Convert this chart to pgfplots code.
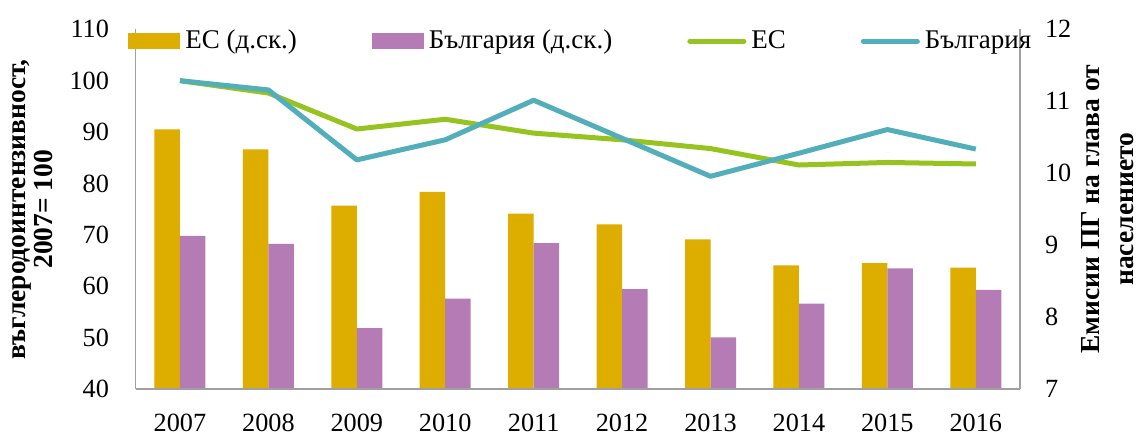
\documentclass[border=0pt]{standalone}
\usepackage{fontspec}
\setmainfont{Liberation Serif}
\usepackage{pgfplots}
\pgfplotsset{compat=1.18}
\definecolor{euBar}{RGB}{221,174,0}
\definecolor{bgBar}{RGB}{181,123,180}
\definecolor{euLine}{RGB}{150,195,31}
\definecolor{bgLine}{RGB}{82,175,185}
\definecolor{axisgray}{RGB}{160,160,160}
\begin{document}
\begin{tikzpicture}
\pgfplotsset{
  common/.style={
    scale only axis, width=353.7pt, height=144pt,
    xmin=-0.5, xmax=9.5, at={(0,0)}, anchor=south west,
    major tick length=0pt,
    axis line style={draw=axisgray, line width=0.6pt},
    tick label style={font=\fontsize{10.5}{12}\selectfont},
    /pgf/number format/assume math mode=true,
  }
}
\path (-54.3pt,-17.5pt) rectangle (400.9pt,155.7pt);
% bars, right axis
\begin{axis}[common,
  axis y line*=right, axis x line=none,
  ymin=7, ymax=12, ytick={7,8,...,12},
  yticklabel shift=6.5pt,
  ybar=0pt, bar width=10.2pt,
  every axis y label/.style={at={(axis description cs:1.0690,0.5)}, anchor=north, rotate=90, align=center, inner sep=0pt, font=\bfseries\fontsize{11}{13.5}\selectfont},
  ylabel={Емисии ПГ на глава от\\населението},
]
\addplot[fill=euBar, draw=none] coordinates {(0,10.61) (1,10.33) (2,9.55) (3,9.74) (4,9.44) (5,9.29) (6,9.08) (7,8.72) (8,8.75) (9,8.69)};
\addplot[fill=bgBar, draw=none] coordinates {(0,9.13) (1,9.02) (2,7.85) (3,8.26) (4,9.03) (5,8.39) (6,7.72) (7,8.19) (8,8.68) (9,8.38)};
\end{axis}
% lines, left axis
\begin{axis}[common,
  axis y line*=left, axis x line*=bottom,
  ymin=40, ymax=110, ytick={40,50,...,110},
  xtick={0,...,9}, xticklabels={2007,2008,2009,2010,2011,2012,2013,2014,2015,2016},
  yticklabel shift=7.2pt, xticklabel shift=6.2pt,
  every axis y label/.style={at={(axis description cs:-0.1402,0.5)}, anchor=north, rotate=90, align=center, inner sep=0pt, font=\bfseries\fontsize{11}{11}\selectfont},
  ylabel={въглеродоинтензивност,\\2007= 100},
  legend columns=4,
  legend style={draw=none, fill=none, at={(0.505,0.9667)}, anchor=center,
    font=\fontsize{10.8}{12}\selectfont,
    /tikz/every even column/.append style={column sep=28pt}},
  legend image code/.code={\draw[#1,line cap=round] (0pt,0pt) -- (21.6pt,0pt);},
]
\addlegendimage{legend image code/.code={\fill[euBar] (0pt,-3pt) rectangle (20.4pt,3pt);}}
\addlegendentry{ЕС (д.ск.)}
\addlegendimage{legend image code/.code={\fill[bgBar] (0pt,-3pt) rectangle (20.4pt,3pt);}}
\addlegendentry{България (д.ск.)}
\addplot[color=euLine, line width=2pt, line join=round, mark=none] coordinates {(0,100) (1,97.6) (2,90.6) (3,92.5) (4,89.8) (5,88.5) (6,86.8) (7,83.6) (8,84.1) (9,83.8)};
\addlegendentry{ЕС}
\addplot[color=bgLine, line width=2pt, line join=round, mark=none] coordinates {(0,100) (1,98.2) (2,84.6) (3,88.5) (4,96.2) (5,88.8) (6,81.4) (7,85.9) (8,90.5) (9,86.7)};
\addlegendentry{България}
\end{axis}
\end{tikzpicture}
\end{document}
